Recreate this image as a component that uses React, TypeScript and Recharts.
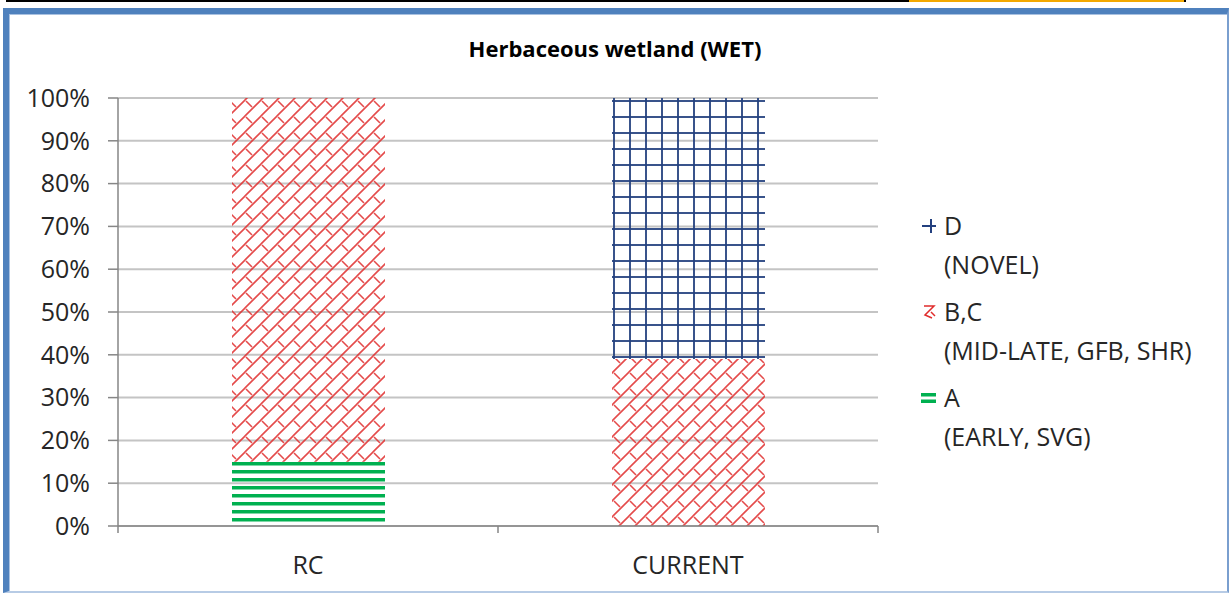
import React from "react";
import { BarChart, Bar, XAxis, YAxis, CartesianGrid, Legend } from "recharts";

// Share of each successional class (%) per scenario
const categories = ["RC", "CURRENT"];
const earlyShare = [15, 0]; // A (EARLY, SVG)
const midLateShare = [85, 39]; // B,C (MID-LATE, GFB, SHR)
const novelShare = [0, 61]; // D (NOVEL)
const yTicks = [0, 10, 20, 30, 40, 50, 60, 70, 80, 90, 100];

const SERIES = [
  { key: "early", code: "A", desc: "(EARLY, SVG)", fill: "url(#hatchEarly)" },
  { key: "midLate", code: "B,C", desc: "(MID-LATE, GFB, SHR)", fill: "url(#hatchMidLate)" },
  { key: "novel", code: "D", desc: "(NOVEL)", fill: "url(#gridNovel)" },
];

const rows = categories.map((name, i) => ({
  name,
  early: earlyShare[i],
  midLate: midLateShare[i],
  novel: novelShare[i],
}));

const FONT = "'Open Sans', sans-serif";
const TEXT = "#262626";
const AXIS = "#868686";
const RED = "#e02c2c";
const GREEN = "#00b050";
const NAVY = "#23407f";
const FS = 25;

const PatternDefs = () => (
  <svg width={0} height={0} style={{ position: "absolute" }}>
    <defs>
      <pattern id="hatchEarly" patternUnits="userSpaceOnUse" x={0} y={6} width={16} height={8}>
        <rect x={0} y={0} width={16} height={3.5} fill={GREEN} />
      </pattern>
      <pattern id="hatchMidLate" patternUnits="userSpaceOnUse" x={5} y={4} width={16} height={16}>
        <g stroke={RED} strokeWidth={1.6} strokeOpacity={0.85} fill="none">
          <path d="M0,16 L16,0 M-2,2 L2,-2 M14,18 L18,14" />
          <path d="M1,1 L7,7" />
        </g>
      </pattern>
      <pattern id="gridNovel" patternUnits="userSpaceOnUse" x={5} y={4} width={16} height={16}>
        <rect x={0} y={0} width={2} height={16} fill={NAVY} fillOpacity={0.9} />
        <rect x={0} y={0} width={16} height={2} fill={NAVY} fillOpacity={0.9} />
      </pattern>
    </defs>
  </svg>
);

const Swatch = ({ seriesKey }: { seriesKey: string }) => {
  if (seriesKey === "novel") {
    return (
      <svg width={18} height={18} style={{ display: "block" }}>
        <path d="M2,9 L16,9 M11,2 L11,16" stroke={NAVY} strokeWidth={2} />
      </svg>
    );
  }
  if (seriesKey === "midLate") {
    return (
      <svg width={18} height={18} style={{ display: "block" }}>
        <path d="M4,3 L14,3 L5,12 L12,15 M11,9 L15,13" stroke={RED} strokeWidth={1.5} fill="none" />
      </svg>
    );
  }
  return (
    <svg width={18} height={18} style={{ display: "block" }}>
      <rect x={1} y={4} width={15} height={3.5} fill={GREEN} />
      <rect x={1} y={10.5} width={15} height={3.5} fill={GREEN} />
    </svg>
  );
};

const LegendBox = (props: any) => {
  const items = [...(props.payload || [])].reverse();
  return (
    <div style={{ fontFamily: FONT, fontSize: FS, color: TEXT }}>
      {items.map((entry: any) => {
        const s = SERIES.find((x) => x.key === entry.dataKey)!;
        return (
          <div key={s.key} style={{ height: 86, position: "relative" }}>
            <div style={{ position: "absolute", left: 3, top: 11 }}>
              <Swatch seriesKey={s.key} />
            </div>
            <div style={{ position: "absolute", left: 27, top: 0, lineHeight: "39px", whiteSpace: "nowrap" }}>
              <div>{s.code}</div>
              <div>{s.desc}</div>
            </div>
          </div>
        );
      })}
    </div>
  );
};

const CategoryTick = (props: any) => {
  const { x, y, payload, index, visibleTicksCount, width } = props;
  const half = payload.offset || width / (2 * visibleTicksCount);
  return (
    <g>
      <line x1={x - half} x2={x - half} y1={y - 7} y2={y} stroke={AXIS} strokeWidth={1.5} />
      {index === visibleTicksCount - 1 && (
        <line x1={x + half} x2={x + half} y1={y - 7} y2={y} stroke={AXIS} strokeWidth={1.5} />
      )}
      <text x={x} y={y + 31} textAnchor="middle" dominantBaseline="central" fill={TEXT} fontSize={FS} fontFamily={FONT}>
        {payload.value}
      </text>
    </g>
  );
};

export default function App() {
  return (
    <div style={{ position: "absolute", left: 0, top: 0, width: 1230, height: 594, background: "#fff", overflow: "hidden", fontFamily: FONT }}>
      <PatternDefs />
      {/* table row above the chart */}
      <div style={{ position: "absolute", left: 6, top: -2, width: 1180, height: 4, borderLeft: "2px solid #000", borderBottom: "2px solid #000", boxSizing: "border-box" }} />
      <div style={{ position: "absolute", left: 157, top: -2, width: 2, height: 4, background: "#000" }} />
      <div style={{ position: "absolute", left: 907, top: -2, width: 279, height: 4, background: "#f2a800", borderLeft: "2px solid #000", borderRight: "2px solid #000", boxSizing: "border-box" }} />
      {/* chart frame */}
      <div
        style={{
          position: "absolute",
          left: 3,
          top: 8,
          width: 1226,
          height: 585,
          boxSizing: "border-box",
          borderTop: "6px solid #4f81bd",
          borderLeft: "6px solid #4f81bd",
          borderRight: "2px solid #7a9fcf",
          borderBottom: "2px solid #b7cbe5",
          boxShadow: "inset 1px 1px 0 #a9c1e0",
        }}
      />
      <div style={{ position: "absolute", left: 0, width: 1230, top: 35, textAlign: "center", fontWeight: 700, fontSize: 22, lineHeight: "26px", color: "#000" }}>
        Herbaceous wetland (WET)
      </div>
      <div style={{ position: "absolute", left: 0, top: 0 }}>
        <BarChart width={1230} height={594} data={rows} margin={{ top: 98, right: 352, bottom: 28, left: 0 }} barSize={153}>
          <CartesianGrid vertical={false} stroke="#c4c4c4" strokeWidth={2} />
          <XAxis
            dataKey="name"
            height={40}
            axisLine={{ stroke: AXIS, strokeWidth: 1.5 }}
            tickLine={false}
            tickSize={7}
            tickMargin={0}
            interval={0}
            tick={<CategoryTick />}
          />
          <YAxis
            width={118}
            domain={[0, 100]}
            ticks={yTicks}
            interval={0}
            tickFormatter={(v: number) => `${v}%`}
            axisLine={{ stroke: AXIS, strokeWidth: 1.5 }}
            tickLine={{ stroke: AXIS, strokeWidth: 1.5 }}
            tickSize={10}
            tickMargin={18}
            tick={{ fill: TEXT, fontSize: FS, fontFamily: FONT }}
          />
          <Legend
            layout="vertical"
            align="center"
            verticalAlign="middle"
            content={<LegendBox />}
            wrapperStyle={{ left: 917, top: 206, width: 310, height: 270 }}
          />
          {SERIES.map((s) => (
            <Bar key={s.key} dataKey={s.key} stackId="share" fill={s.fill} isAnimationActive={false} />
          ))}
        </BarChart>
      </div>
    </div>
  );
}
